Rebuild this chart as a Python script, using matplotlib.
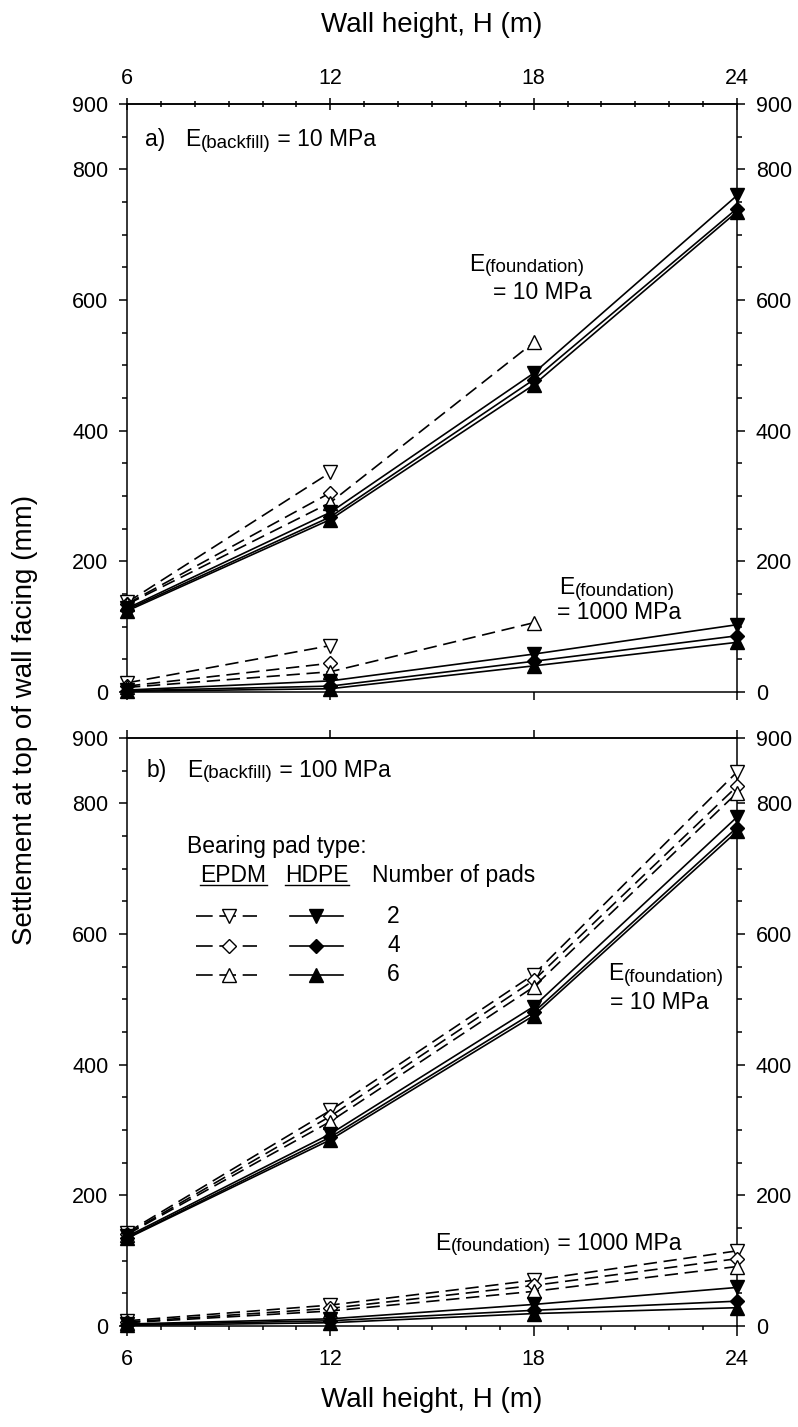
import numpy as np
import matplotlib.pyplot as plt
from matplotlib.ticker import MultipleLocator, FixedLocator

plt.rcParams['font.family'] = ['Liberation Sans', 'DejaVu Sans']
plt.rcParams['axes.linewidth'] = 1.1

nan = np.nan
wall_h = [6, 12, 18, 24]
n_pads = ['2', '4', '6']
y_ticks = [0, 200, 400, 600, 800, 900]

# a) E(backfill) = 10 MPa
a_epdm_f10 = [[137, 336, nan, nan], [135, 305, nan, nan], [134, 290, 535, nan]]
a_hdpe_f10 = [[128, 275, 488, 760], [126, 268, 478, 740], [124, 264, 470, 735]]
a_epdm_f1000 = [[14, 71, nan, nan], [9, 44, nan, nan], [7, 31, 106, nan]]
a_hdpe_f1000 = [[3, 17, 58, 103], [2, 9, 47, 86], [1, 5, 40, 76]]

# b) E(backfill) = 100 MPa
b_epdm_f10 = [[143, 330, 538, 848], [141, 321, 529, 826], [140, 313, 519, 816]]
b_hdpe_f10 = [[137, 294, 489, 779], [135, 289, 480, 763], [134, 285, 475, 757]]
b_epdm_f1000 = [[8, 32, 70, 115], [6, 27, 62, 103], [5, 23, 53, 91]]
b_hdpe_f1000 = [[3, 11, 33, 59], [2, 8, 24, 38], [1, 5, 19, 28]]

marks = ['v', 'D', '^']
msize = [9.5, 7.5, 9.5]
dash = (0, (8, 4))
LW = 1.2
FS = 15.5      # tick labels
FS_TXT = 16.5  # annotations
FS_SUB = 13.5
FS_LAB = 20


def draw_group(ax, epdm, hdpe):
    for k in range(3):
        ax.plot(wall_h, epdm[k], ls=dash, lw=LW, color='black', marker=marks[k],
                ms=msize[k], mfc='white', mec='black', mew=1.0, clip_on=False, zorder=3)
    for k in range(3):
        ax.plot(wall_h, hdpe[k], ls='-', lw=LW, color='black', marker=marks[k],
                ms=msize[k], mfc='black', mec='black', clip_on=False, zorder=4)


def e_label(ax, x, y, word, tail=''):
    # "E" with smaller "(word)" after it, then optional tail text
    t = ax.text(x, y, 'E', fontsize=FS_TXT, va='center')
    t2 = ax.annotate('(' + word + ')', xy=(1, 0), xycoords=t, xytext=(0.3, -0.6),
                     textcoords='offset points', fontsize=FS_SUB, va='bottom')
    if tail:
        ax.annotate(tail, xy=(1, 0), xycoords=(t2, t), xytext=(0, 0),
                    textcoords='offset points', fontsize=FS_TXT, va='bottom')
    return t


def style_axes(ax):
    ax.set_xlim(6, 24)
    ax.set_ylim(0, 900)
    ax.yaxis.set_major_locator(FixedLocator(y_ticks))
    ax.yaxis.set_minor_locator(MultipleLocator(50))
    ax.tick_params(axis='y', which='both', direction='out', left=True, right=True,
                   labelleft=True, labelright=True, labelsize=FS, width=1.1, pad=8)
    ax.tick_params(axis='y', which='major', length=5.5)
    ax.tick_params(axis='y', which='minor', length=3.5)
    ax.xaxis.set_major_locator(FixedLocator(wall_h))


fig = plt.figure(figsize=(7.98, 14.27), dpi=100)
ax_a = fig.add_axes([0.15915, 0.51507, 0.76441, 0.41205])
ax_b = fig.add_axes([0.15915, 0.07078, 0.76441, 0.41205])

draw_group(ax_a, a_epdm_f10, a_hdpe_f10)
draw_group(ax_a, a_epdm_f1000, a_hdpe_f1000)
draw_group(ax_b, b_epdm_f10, b_hdpe_f10)
draw_group(ax_b, b_epdm_f1000, b_hdpe_f1000)

for ax in (ax_a, ax_b):
    style_axes(ax)

# panel a: bottom major ticks only, top labelled with minor ticks
ax_a.tick_params(axis='x', which='major', direction='out', length=5.5, width=1.1,
                 labelbottom=False, top=False)
top_a = ax_a.secondary_xaxis('top')
top_a.xaxis.set_major_locator(FixedLocator(wall_h))
top_a.xaxis.set_minor_locator(MultipleLocator(1))
top_a.tick_params(which='both', direction='inout', labelsize=FS, width=1.1, pad=6)
top_a.tick_params(which='major', length=9)
top_a.tick_params(which='minor', length=5)

# panel b: bottom labelled with minor ticks, top major only
ax_b.xaxis.set_minor_locator(MultipleLocator(1))
ax_b.tick_params(axis='x', which='both', direction='out', width=1.1, labelsize=FS,
                 top=False, pad=9)
ax_b.tick_params(axis='x', which='major', length=7.5)
ax_b.tick_params(axis='x', which='minor', length=3)
top_b = ax_b.secondary_xaxis('top')
top_b.xaxis.set_major_locator(FixedLocator(wall_h))
top_b.tick_params(direction='out', length=6, width=1.1, labeltop=False)

# annotations
ax_a.text(6.53, 845, 'a)', fontsize=FS_TXT, va='center')
e_label(ax_a, 7.72, 845, 'backfill', ' = 10 MPa')
e_label(ax_a, 16.1, 655, 'foundation')
ax_a.text(16.8, 611, '= 10 MPa', fontsize=FS_TXT, va='center')
e_label(ax_a, 18.75, 160, 'foundation')
ax_a.text(18.7, 121, '= 1000 MPa', fontsize=FS_TXT, va='center')

ax_b.text(6.59, 851, 'b)', fontsize=FS_TXT, va='center')
e_label(ax_b, 7.78, 851, 'backfill', ' = 100 MPa')
e_label(ax_b, 20.2, 539, 'foundation')
ax_b.text(20.25, 495, '= 10 MPa', fontsize=FS_TXT, va='center')
e_label(ax_b, 15.1, 127, 'foundation', ' = 1000 MPa')

# legend block in panel b
leg_rows = [627, 582, 538]
ax_b.text(7.78, 734, 'Bearing pad type:', fontsize=FS_TXT, va='center')
ax_b.text(9.13, 690, 'EPDM', fontsize=FS_TXT, va='center', ha='center')
ax_b.text(11.6, 690, 'HDPE', fontsize=FS_TXT, va='center', ha='center')
ax_b.text(13.23, 690, 'Number of pads', fontsize=FS_TXT, va='center')
ax_b.plot([8.14, 10.12], [675, 675], color='black', lw=1.0)
ax_b.plot([10.67, 12.54], [675, 675], color='black', lw=1.0)
for k in range(3):
    ax_b.plot([8.05, 9.83], [leg_rows[k]] * 2, ls=(0, (10, 4)), lw=LW, color='black')
    ax_b.plot([9.0], [leg_rows[k]], ls='none', marker=marks[k], ms=msize[k],
              mfc='white', mec='black')
    ax_b.plot([10.8, 12.38], [leg_rows[k]] * 2, ls='-', lw=LW, color='black')
    ax_b.plot([11.58], [leg_rows[k]], ls='none', marker=marks[k], ms=msize[k],
              mfc='black', mec='black')
    ax_b.text(13.86, leg_rows[k], n_pads[k], fontsize=FS_TXT, va='center', ha='center')

fig.text(432 / 798, 1 - 25 / 1427, 'Wall height, H (m)', fontsize=FS_LAB,
         ha='center', va='center')
fig.text(432 / 798, 1 - 1400 / 1427, 'Wall height, H (m)', fontsize=FS_LAB,
         ha='center', va='center')
fig.text(25 / 798, 1 - 720 / 1427, 'Settlement at top of wall facing (mm)',
         fontsize=FS_LAB, ha='center', va='center', rotation=90)

fig.savefig('out.png', dpi=100)
